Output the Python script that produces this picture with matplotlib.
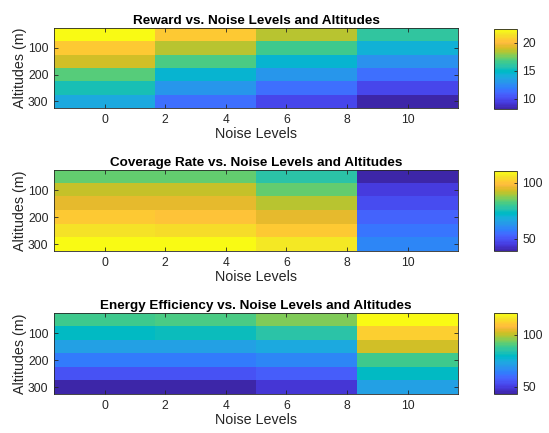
import numpy as np
import matplotlib
matplotlib.use("Agg")
import matplotlib.pyplot as plt
from matplotlib.colors import ListedColormap

# parula-style colormap (64 entries)
parula_data = [
    [0.2422, 0.1504, 0.6603], [0.2504, 0.1650, 0.7076], [0.2578, 0.1818, 0.7511],
    [0.2647, 0.1978, 0.7952], [0.2706, 0.2147, 0.8364], [0.2751, 0.2342, 0.8710],
    [0.2783, 0.2559, 0.8991], [0.2803, 0.2782, 0.9221], [0.2813, 0.3006, 0.9414],
    [0.2810, 0.3228, 0.9579], [0.2795, 0.3447, 0.9717], [0.2760, 0.3667, 0.9829],
    [0.2699, 0.3892, 0.9906], [0.2602, 0.4123, 0.9952], [0.2440, 0.4358, 0.9988],
    [0.2206, 0.4603, 0.9973], [0.1963, 0.4847, 0.9892], [0.1834, 0.5074, 0.9798],
    [0.1786, 0.5289, 0.9682], [0.1764, 0.5499, 0.9520], [0.1687, 0.5703, 0.9359],
    [0.1540, 0.5902, 0.9218], [0.1460, 0.6091, 0.9079], [0.1380, 0.6276, 0.8973],
    [0.1248, 0.6459, 0.8883], [0.1113, 0.6635, 0.8763], [0.0952, 0.6798, 0.8598],
    [0.0689, 0.6948, 0.8394], [0.0297, 0.7082, 0.8163], [0.0036, 0.7203, 0.7917],
    [0.0067, 0.7312, 0.7660], [0.0433, 0.7411, 0.7394], [0.0964, 0.7500, 0.7120],
    [0.1408, 0.7584, 0.6842], [0.1717, 0.7670, 0.6554], [0.1938, 0.7758, 0.6251],
    [0.2161, 0.7843, 0.5923], [0.2470, 0.7918, 0.5567], [0.2906, 0.7973, 0.5188],
    [0.3406, 0.8008, 0.4789], [0.3909, 0.8029, 0.4354], [0.4456, 0.8024, 0.3909],
    [0.5044, 0.7993, 0.3480], [0.5616, 0.7942, 0.3045], [0.6174, 0.7876, 0.2612],
    [0.6720, 0.7793, 0.2227], [0.7242, 0.7698, 0.1910], [0.7738, 0.7598, 0.1646],
    [0.8203, 0.7498, 0.1535], [0.8634, 0.7406, 0.1596], [0.9035, 0.7330, 0.1774],
    [0.9393, 0.7288, 0.2100], [0.9728, 0.7298, 0.2394], [0.9956, 0.7434, 0.2371],
    [0.9970, 0.7659, 0.2199], [0.9952, 0.7893, 0.2028], [0.9892, 0.8136, 0.1885],
    [0.9786, 0.8386, 0.1766], [0.9676, 0.8639, 0.1643], [0.9610, 0.8890, 0.1537],
    [0.9597, 0.9135, 0.1423], [0.9628, 0.9373, 0.1265], [0.9691, 0.9606, 0.1064],
    [0.9769, 0.9839, 0.0805],
]
parula = ListedColormap(parula_data, name="parula")

noise_levels = [0, 10 / 3, 20 / 3, 10]
altitudes = [50, 100, 150, 200, 250, 300]

# rows = altitudes, columns = noise levels
reward = np.array([
    [22.4, 20.6, 18.6, 16.0],
    [20.6, 18.6, 16.5, 14.4],
    [19.0, 16.8, 14.5, 12.8],
    [17.0, 14.6, 12.9, 11.4],
    [15.4, 13.0, 11.4, 9.9],
    [13.8, 11.5, 9.8, 8.2],
])
coverage = np.array([
    [84.5, 84.0, 78.0, 39.0],
    [92.5, 92.0, 84.5, 45.0],
    [96.0, 95.5, 91.5, 49.0],
    [101.0, 100.5, 96.0, 52.5],
    [105.5, 105.0, 101.0, 56.0],
    [110.6, 110.0, 107.0, 60.0],
])
energy = np.array([
    [89.0, 89.5, 94.0, 120.7],
    [80.5, 81.0, 85.0, 111.0],
    [71.0, 71.5, 73.5, 102.0],
    [63.0, 63.5, 65.5, 89.0],
    [54.5, 55.0, 56.5, 80.5],
    [43.0, 43.5, 48.5, 71.0],
])

titles = ["Reward vs. Noise Levels and Altitudes",
          "Coverage Rate vs. Noise Levels and Altitudes",
          "Energy Efficiency vs. Noise Levels and Altitudes"]
cbar_ticks = [[10, 15, 20], [50, 100], [50, 100]]
panels = [reward, coverage, energy]

plt.rcParams["font.family"] = ["Liberation Sans", "DejaVu Sans"]
axis_color = "#262626"

W, H = 549, 433
fig = plt.figure(figsize=(W / 100, H / 100), dpi=100)

# pixel boxes: (left, top, right, bottom)
ax_boxes = [(54, 28, 458, 108), (54, 170, 458, 251), (54, 313, 458, 394)]
cb_boxes = [(494, 29, 517, 109), (494, 171, 517, 251), (494, 313, 517, 394)]


def to_fig(box):
    l, t, r, b = box
    return [l / W, 1 - b / H, (r - l) / W, (b - t) / H]


dx = noise_levels[1] - noise_levels[0]
dy = altitudes[1] - altitudes[0]
extent = [noise_levels[0] - dx / 2, noise_levels[-1] + dx / 2,
          altitudes[-1] + dy / 2, altitudes[0] - dy / 2]

for data, title, ticks, abox, cbox in zip(panels, titles, cbar_ticks, ax_boxes, cb_boxes):
    ax = fig.add_axes(to_fig(abox))
    im = ax.imshow(data, cmap=parula, extent=extent, aspect="auto",
                   interpolation="nearest", origin="upper")
    ax.set_xticks([0, 2, 4, 6, 8, 10])
    ax.set_yticks([100, 200, 300])
    ax.set_title(title, fontsize=9.7, fontweight="bold", pad=3)
    ax.set_xlabel("Noise Levels", fontsize=10.3, labelpad=1, color=axis_color)
    ax.set_ylabel("Altitudes (m)", fontsize=10.3, labelpad=1, color=axis_color)
    ax.tick_params(direction="in", length=3, width=0.6, labelsize=8.7,
                   top=True, right=True, colors=axis_color, pad=4)
    for sp in ax.spines.values():
        sp.set_color(axis_color)
        sp.set_linewidth(0.6)

    cax = fig.add_axes(to_fig(cbox))
    cb = fig.colorbar(im, cax=cax, ticks=ticks)
    cb.ax.tick_params(direction="in", length=2, width=0.6, labelsize=8.7,
                      colors=axis_color, pad=4)
    cb.outline.set_edgecolor(axis_color)
    cb.outline.set_linewidth(0.6)

fig.savefig("out.png", dpi=100, facecolor="white")
